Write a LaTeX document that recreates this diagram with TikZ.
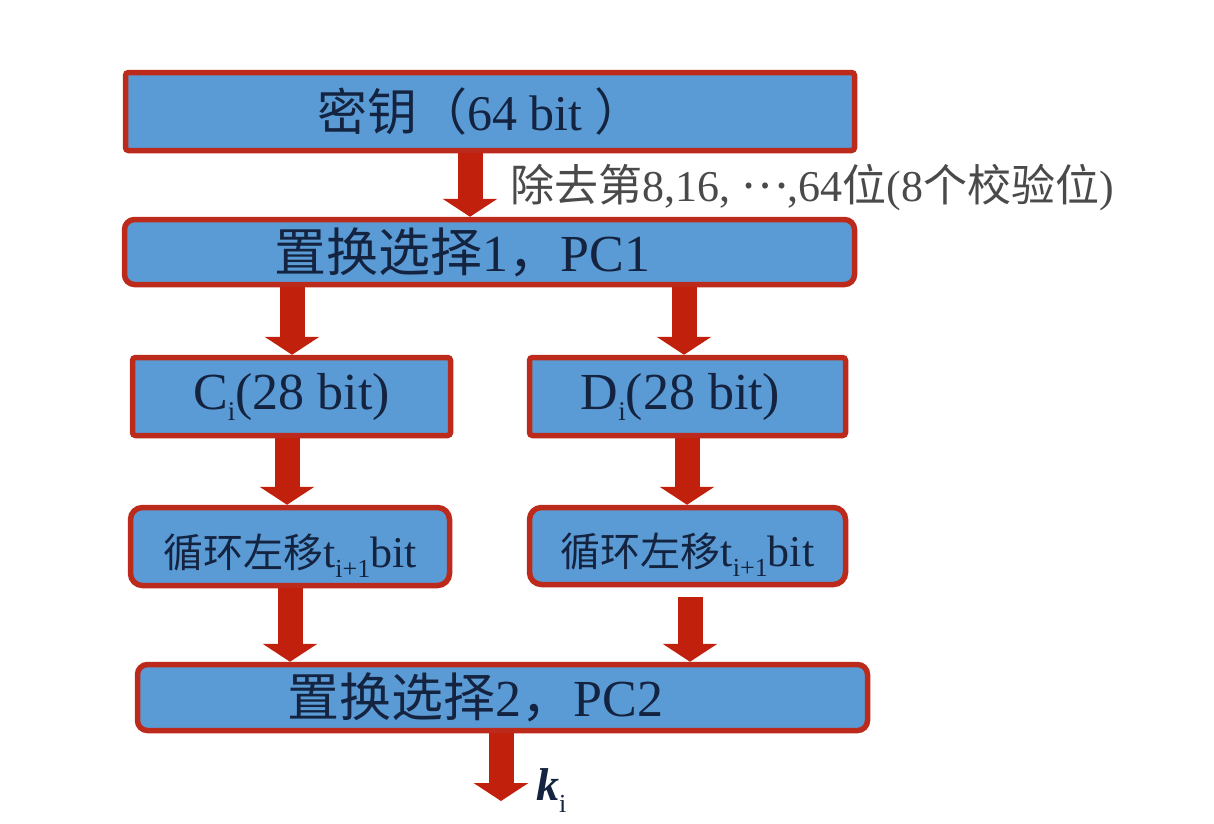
\documentclass[tikz,border=0pt]{standalone}
\usepackage{fontspec}
\setmainfont{Liberation Serif}
\newfontfamily\cjk{Noto Sans CJK SC}
\usetikzlibrary{arrows.meta}
\definecolor{boxblue}{HTML}{5B9BD5}
\definecolor{boxred}{HTML}{BC2A1C}
\definecolor{arrred}{HTML}{C0200C}
\definecolor{txt}{HTML}{14233F}
\definecolor{lbl}{HTML}{4A4A4A}
\newcommand\mysub[3]{\raisebox{-#1}{\fontsize{#2}{#2}\selectfont #3}}
\newcommand\dn[2]{\raisebox{-#1}[\height][\depth]{#2}}
\begin{document}
\begin{tikzpicture}[x=1pt,y=-1pt,
  box/.style={draw=boxred, fill=boxblue, line width=5.5pt, inner sep=0pt, text=txt, anchor=center},
  bigarrow/.style={draw=arrred, line width=25pt, -{Triangle[width=54pt,length=18pt]}}]
\useasboundingbox[fill=white] (0,0) rectangle (1214,823);
% x positions of arrows
\coordinate (x1) at (470,0);
\coordinate (xL1) at (292,0);
\coordinate (xR1) at (684,0);
\coordinate (xL2) at (287,0);
\coordinate (xR2) at (687,0);
\coordinate (xL3) at (290,0);
\coordinate (rstart) at (690,597);
\coordinate (kend) at (501,801);
% boxes
\node[box, rounded corners=3pt, minimum width=729pt, minimum height=78pt,
      font=\fontsize{50pt}{52pt}\selectfont] (key) at (490,111.5)
      {{\cjk 密钥（}64 bit {\cjk ）}\hspace*{18pt}};
\node[box, rounded corners=10pt, minimum width=730pt, minimum height=65pt,
      font=\fontsize{52pt}{54pt}\selectfont] (pc1) at (489.5,252)
      {{\cjk 置换选择}1{\cjk ，}PC1\hspace*{54pt}};
\node[box, rounded corners=3pt, minimum width=318pt, minimum height=78pt,
      font=\fontsize{52pt}{54pt}\selectfont] (C) at (291.5,396.5)
      {C\mysub{11pt}{27pt}{i}(28 bit)};
\node[box, rounded corners=3pt, minimum width=316pt, minimum height=78pt,
      font=\fontsize{52pt}{54pt}\selectfont] (D) at (687.5,396.5)
      {D\mysub{11pt}{27pt}{i}(28 bit)\hspace*{14pt}};
\node[box, rounded corners=12pt, minimum width=319pt, minimum height=78pt,
      font=\fontsize{44pt}{46pt}\selectfont] (sL) at (290,546.5)
      {\dn{9pt}{{\cjk\fontsize{40pt}{42pt}\selectfont 循环左移}t\mysub{10pt}{26pt}{i+1}bit}};
\node[box, rounded corners=12pt, minimum width=316pt, minimum height=77pt,
      font=\fontsize{44pt}{46pt}\selectfont] (sR) at (687.5,546)
      {\dn{9pt}{{\cjk\fontsize{40pt}{42pt}\selectfont 循环左移}t\mysub{10pt}{26pt}{i+1}bit}};
\node[box, rounded corners=10pt, minimum width=730pt, minimum height=66pt,
      font=\fontsize{52pt}{54pt}\selectfont] (pc2) at (502.5,697.5)
      {{\cjk 置换选择}2{\cjk ，}PC2\hspace*{54pt}};
% arrows
\draw[bigarrow] (key.south -| x1) -- (pc1.north -| x1);
\draw[bigarrow] (pc1.south -| xL1) -- (C.north -| xL1);
\draw[bigarrow] (pc1.south -| xR1) -- (D.north -| xR1);
\draw[bigarrow] (C.south -| xL2) -- (sL.north -| xL2);
\draw[bigarrow] (D.south -| xR2) -- (sR.north -| xR2);
\draw[bigarrow] (sL.south -| xL3) -- (pc2.north -| xL3);
\draw[bigarrow] (rstart) -- (pc2.north -| rstart);
\draw[bigarrow] (pc2.south -| kend) -- (kend);
% labels
\node[anchor=west, inner sep=0pt, text=lbl, font=\fontsize{44pt}{46pt}\selectfont] (lab) at (510,188)
  {{\cjk 除去第}8,16, \raisebox{0.3em}{\cjk …},64{\cjk 位}(8{\cjk 个校验位})};
\node[anchor=west, inner sep=0pt, text=txt, font=\fontsize{46pt}{48pt}\selectfont] (ki) at (536,791)
  {{\bfseries\itshape k}\mysub{12pt}{26pt}{i}};
\end{tikzpicture}
\end{document}
